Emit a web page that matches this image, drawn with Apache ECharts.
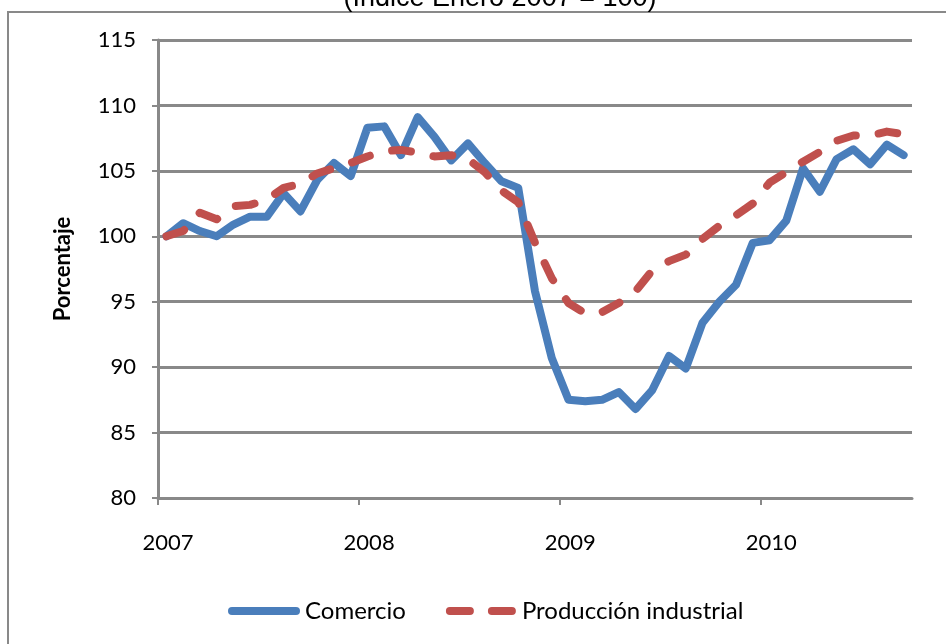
<!DOCTYPE html>
<html>
<head>
<meta charset="utf-8">
<script src="https://cdn.jsdelivr.net/npm/echarts@6/dist/echarts.min.js"></script>
<style>
html,body{margin:0;padding:0;background:#fff;}
#chart{width:946px;height:644px;}
</style>
</head>
<body>
<div id="chart"></div>
<script>
// Monthly data, Jan 2007 - Sep 2010 (index Jan 2007 = 100)
const yearLabels = ['2007', '2008', '2009', '2010'];
const comercio = [
  100.0, 101.0, 100.4, 100.0, 100.9, 101.5, 101.5, 103.3, 101.9, 104.3, 105.6, 104.6,
  108.3, 108.4, 106.2, 109.1, 107.6, 105.8, 107.1, 105.6, 104.2, 103.7, 95.8, 90.7,
  87.5, 87.4, 87.5, 88.1, 86.8, 88.25, 90.85, 89.9, 93.4, 95.0, 96.3, 99.5,
  99.7, 101.2, 105.2, 103.4, 105.9, 106.65, 105.5, 107.0, 106.2
];
const produccion = [
  100.0, 100.4, 101.8, 101.3, 102.3, 102.4, 102.8, 103.7, 104.0, 104.8, 105.2, 105.6,
  106.1, 106.5, 106.6, 106.4, 106.1, 106.2, 105.9, 104.9, 103.5, 102.6, 99.5, 96.8,
  94.9, 94.1, 94.2, 94.9, 95.8, 97.4, 98.1, 98.6, 99.8, 100.8, 101.6, 102.5,
  104.1, 104.9, 105.7, 106.45, 107.3, 107.7, 107.7, 108.0, 107.8
];
const seriesNames = ['Comercio', 'Producción industrial'];
const titleText = '(Indice Enero 2007 = 100)';
const yAxisTitle = 'Porcentaje';

const toPoints = arr => arr.map((v, i) => [i + 0.5, v]);

const grey = '#898989';
const blue = '#4A7EBB';
const red = '#C0504D';
const solidIcon = 'path://M4,0H68A4,4 0 0 1 68,8H4A4,4 0 0 1 4,0Z';
const dashIcon = 'path://M4,0H24A4,4 0 0 1 24,8H4A4,4 0 0 1 4,0Z M46,0H66A4,4 0 0 1 66,8H46A4,4 0 0 1 46,0Z';

const chart = echarts.init(document.getElementById('chart'));
chart.setOption({
  animation: false,
  backgroundColor: '#fff',
  textStyle: { fontFamily: 'Lato' },
  graphic: [
    { type: 'rect', shape: { x: 8, y: 12, width: 1000, height: 700 },
      style: { fill: 'none', stroke: grey, lineWidth: 2 }, z: -1 },
    { type: 'text', x: 500, y: -1,
      style: { text: titleText, font: '27px "Liberation Sans", Arial, sans-serif',
        fill: '#000', align: 'center', verticalAlign: 'middle' } }
  ],
  grid: { left: 158, top: 40, right: 34, bottom: 146, containLabel: false },
  legend: {
    left: 223, top: 594,
    itemWidth: 72, itemHeight: 8, itemGap: 40,
    itemStyle: { borderWidth: 0 },
    textStyle: { fontFamily: 'Lato', fontSize: 24, color: '#000' },
    data: [
      { name: seriesNames[0], icon: solidIcon, itemStyle: { color: blue } },
      { name: seriesNames[1], icon: dashIcon, itemStyle: { color: red } }
    ]
  },
  xAxis: {
    type: 'value', min: 0, max: 45, interval: 12,
    axisLine: { show: true, lineStyle: { color: grey, width: 3 } },
    axisTick: { show: true, length: 7, customValues: [0, 12, 24, 36], lineStyle: { color: grey, width: 2 } },
    axisLabel: {
      customValues: [0.6, 12.6, 24.6, 36.6],
      formatter: v => yearLabels[Math.floor(v / 12)] || '',
      fontSize: 22, color: '#000', margin: 34, fontFamily: 'Lato'
    },
    splitLine: { show: false }
  },
  yAxis: {
    type: 'value', min: 80, max: 115, interval: 5,
    name: yAxisTitle, nameLocation: 'middle', nameRotate: 90, nameGap: 84,
    nameTextStyle: { fontSize: 22, fontWeight: 'bold', color: '#000', fontFamily: 'Lato' },
    axisLine: { show: true, lineStyle: { color: grey, width: 3 } },
    axisTick: { show: true, length: 6, lineStyle: { color: grey, width: 2 } },
    axisLabel: { fontSize: 22, color: '#000', margin: 22, fontFamily: 'Lato' },
    splitLine: { show: true, lineStyle: { color: grey, width: 3 } }
  },
  series: [
    {
      name: seriesNames[0], type: 'line', data: toPoints(comercio),
      showSymbol: false, symbol: 'none',
      lineStyle: { color: blue, width: 8, cap: 'round', join: 'round' },
      itemStyle: { color: blue }, z: 2
    },
    {
      name: seriesNames[1], type: 'line', data: toPoints(produccion),
      showSymbol: false, symbol: 'none',
      lineStyle: { color: red, width: 8, type: [19, 23], cap: 'round', join: 'round' },
      itemStyle: { color: red }, z: 3
    }
  ]
});
</script>
</body>
</html>
